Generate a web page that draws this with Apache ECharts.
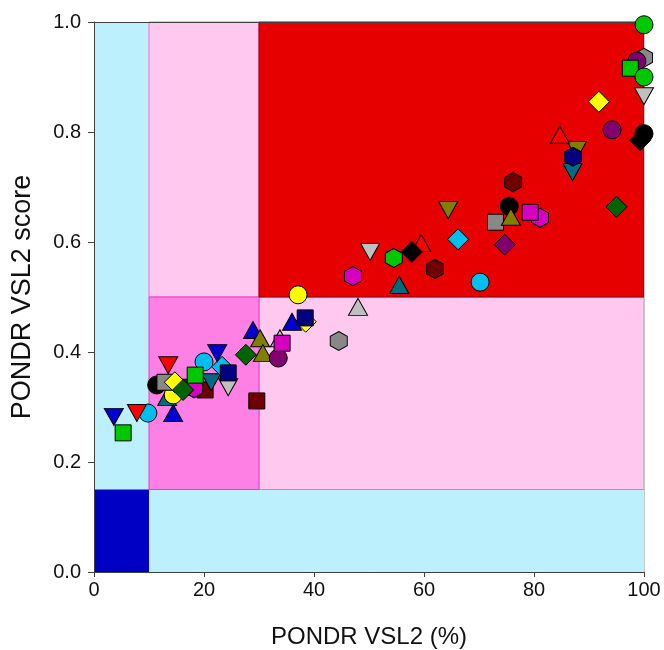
<!DOCTYPE html>
<html>
<head>
<meta charset="utf-8">
<script src="https://cdn.jsdelivr.net/npm/echarts@6/dist/echarts.min.js"></script>
<style>
  html, body { margin: 0; padding: 0; background: #fff; }
  #chart { width: 664px; height: 650px; }
</style>
</head>
<body>
<div id="chart"></div>
<script>
// x = PONDR VSL2 (%), y = PONDR VSL2 score
var xTicks = [0, 20, 40, 60, 80, 100];
var yTicks = [0, 0.2, 0.4, 0.6, 0.8, 1.0];

// circles
var circleGreen  = [[100, 0.995], [100, 0.900]];
var circlePurple = [[98.7, 0.929], [94.2, 0.804], [33.5, 0.389]];
var circleBlack  = [[100, 0.797], [75.5, 0.665], [11.4, 0.340]];
var circleCyan   = [[70.2, 0.527], [20.0, 0.382], [9.8, 0.289]];
var circleYellow = [[37.1, 0.504], [14.4, 0.322]];

// squares
var squareGreen   = [[97.5, 0.916], [18.4, 0.358], [5.3, 0.253]];
var squareGray    = [[73.0, 0.636], [12.9, 0.345]];
var squareMagenta = [[79.3, 0.654], [34.2, 0.416]];
var squareNavy    = [[38.4, 0.462], [24.4, 0.362]];
var squareDarkred = [[16.9, 0.336], [20.2, 0.331], [29.6, 0.311]];

// triangles (up)
var triRed       = [[84.7, 0.795], [59.5, 0.598]];
var triTeal      = [[55.5, 0.522], [13.3, 0.318]];
var triLightgray = [[48.0, 0.482], [33.8, 0.425]];
var triBlue      = [[36.0, 0.455], [28.9, 0.440], [14.4, 0.289]];
var triOlive     = [[75.8, 0.646], [30.2, 0.425], [30.7, 0.398]];

// triangles (down)
var triDownLightgray = [[100, 0.865], [50.2, 0.582], [24.4, 0.336]];
var triDownOlive     = [[87.8, 0.767], [64.4, 0.658]];
var triDownTeal      = [[87.0, 0.727], [21.3, 0.345]];
var triDownBlue      = [[22.4, 0.398], [3.6, 0.282]];
var triDownRed       = [[13.5, 0.376], [7.8, 0.289]];

// diamonds
var diamondYellow    = [[91.8, 0.855], [38.5, 0.455], [14.7, 0.345]];
var diamondBlack     = [[99.3, 0.785], [57.8, 0.582]];
var diamondDarkgreen = [[95.0, 0.664], [27.6, 0.395], [16.2, 0.331]];
var diamondCyan      = [[66.2, 0.605], [23.3, 0.373]];
var diamondPurple    = [[74.7, 0.595]];

// hexagons
var hexGray    = [[100, 0.935], [44.5, 0.420]];
var hexNavy    = [[87.1, 0.755]];
var hexDarkred = [[76.2, 0.709], [62.0, 0.551]];
var hexMagenta = [[81.1, 0.644], [47.1, 0.538], [18.2, 0.334]];
var hexGreen   = [[54.5, 0.571]];

var C = {
  black: '#000000', red: '#ff0000', green: '#00c800', yellow: '#ffff00',
  blue: '#0000d0', magenta: '#d800c0', cyan: '#00bfee', gray: '#888888',
  darkred: '#700000', olive: '#808000', navy: '#000080', purple: '#800070',
  darkgreen: '#006400', teal: '#006a80', lightgray: '#c0c0c0'
};

var HEX = 'path://M0,-1L0.866,-0.5L0.866,0.5L0,1L-0.866,0.5L-0.866,-0.5Z';
var SHAPES = {
  circle:  { symbol: 'circle', size: 18, rotate: 0 },
  square:  { symbol: 'rect', size: 16, rotate: 0 },
  tri:     { symbol: 'triangle', size: [19, 17], rotate: 0 },
  triDown: { symbol: 'triangle', size: [19, 17], rotate: 180 },
  diamond: { symbol: 'diamond', size: 21, rotate: 0 },
  hex:     { symbol: HEX, size: [17, 19], rotate: 0 }
};

// draw order: earlier groups sit underneath
var groups = [
  ['square', 'darkred', squareDarkred],
  ['tri', 'teal', triTeal],
  ['triDown', 'teal', triDownTeal],
  ['hex', 'magenta', hexMagenta],
  ['circle', 'yellow', circleYellow],
  ['circle', 'black', circleBlack],
  ['square', 'gray', squareGray],
  ['diamond', 'yellow', diamondYellow],
  ['tri', 'blue', triBlue],
  ['tri', 'olive', triOlive],
  ['triDown', 'olive', triDownOlive],
  ['hex', 'navy', hexNavy],
  ['hex', 'gray', hexGray],
  ['circle', 'purple', circlePurple],
  ['circle', 'cyan', circleCyan],
  ['square', 'green', squareGreen],
  ['circle', 'green', circleGreen],
  ['triDown', 'lightgray', triDownLightgray],
  ['tri', 'lightgray', triLightgray],
  ['square', 'magenta', squareMagenta],
  ['hex', 'darkred', hexDarkred],
  ['tri', 'red', triRed],
  ['diamond', 'black', diamondBlack],
  ['hex', 'green', hexGreen],
  ['diamond', 'cyan', diamondCyan],
  ['diamond', 'purple', diamondPurple],
  ['diamond', 'darkgreen', diamondDarkgreen],
  ['triDown', 'blue', triDownBlue],
  ['triDown', 'red', triDownRed],
  ['square', 'navy', squareNavy]
];

function region(x0, y0, x1, y1, fill, border) {
  return [
    { coord: [x0, y0], itemStyle: { color: fill, borderColor: border || fill, borderWidth: border ? 1 : 0 } },
    { coord: [x1, y1] }
  ];
}

var series = [{
  type: 'scatter',
  data: [],
  z: 1,
  silent: true,
  markArea: {
    silent: true,
    label: { show: false },
    data: [
      region(0, 0, 100, 1, '#bcf0fc'),
      region(0, 0, 10, 0.15, '#0000c4'),
      region(10, 0.5, 30, 1, '#ffc8ee', '#ff66dd'),
      region(30, 0.15, 100, 0.5, '#ffc8ee', '#ff66dd'),
      region(10, 0.15, 30, 0.5, '#ff80e4', '#e040c8'),
      region(30, 0.5, 100, 1, '#e60000', '#8a0000')
    ]
  }
}];

groups.forEach(function (g) {
  var s = SHAPES[g[0]];
  series.push({
    type: 'scatter',
    data: g[2],
    z: 3,
    clip: false,
    symbol: s.symbol,
    symbolSize: s.size,
    symbolRotate: s.rotate,
    itemStyle: { color: C[g[1]], borderColor: '#000', borderWidth: 1, opacity: 1 }
  });
});

var font = 'Arial, "Liberation Sans", sans-serif';

var option = {
  animation: false,
  backgroundColor: '#fff',
  grid: { left: 94, right: 20, top: 22, bottom: 78, outerBoundsMode: 'none', containLabel: false },
  xAxis: [{
    type: 'value', min: 0, max: 100, interval: 20, z: 2,
    name: 'PONDR VSL2 (%)', nameLocation: 'middle', nameGap: 53,
    nameTextStyle: { fontSize: 24, color: '#111', fontFamily: font },
    axisLine: { show: true, lineStyle: { color: '#404040', width: 1 } },
    axisTick: { show: true, length: 5, lineStyle: { color: '#404040' } },
    axisLabel: { fontSize: 20, color: '#111', margin: 8, fontFamily: font,
      formatter: function (v) { return xTicks.indexOf(v) >= 0 ? String(v) : ''; } },
    splitLine: { show: false }
  }, {
    type: 'value', min: 0, max: 100, position: 'top', z: 2,
    axisLine: { show: true, onZero: false, lineStyle: { color: '#404040', width: 1 } },
    axisTick: { show: false }, axisLabel: { show: false }, splitLine: { show: false }
  }],
  yAxis: [{
    type: 'value', min: 0, max: 1, interval: 0.2, z: 2,
    name: 'PONDR VSL2 score', nameLocation: 'middle', nameGap: 58,
    nameTextStyle: { fontSize: 27, color: '#111', fontFamily: font },
    axisLine: { show: true, lineStyle: { color: '#404040', width: 1 } },
    axisTick: { show: true, length: 6, lineStyle: { color: '#404040' } },
    axisLabel: { fontSize: 20, color: '#111', margin: 13, fontFamily: font,
      formatter: function (v) {
        var t = yTicks.filter(function (k) { return Math.abs(k - v) < 1e-9; });
        return t.length ? v.toFixed(1) : '';
      } },
    splitLine: { show: false }
  }, {
    type: 'value', min: 0, max: 1, position: 'right', z: 2,
    axisLine: { show: true, onZero: false, lineStyle: { color: '#c8c8c8', width: 1 } },
    axisTick: { show: false }, axisLabel: { show: false }, splitLine: { show: false }
  }],
  series: series
};

var chart = echarts.init(document.getElementById('chart'));
chart.setOption(option);
</script>
</body>
</html>
